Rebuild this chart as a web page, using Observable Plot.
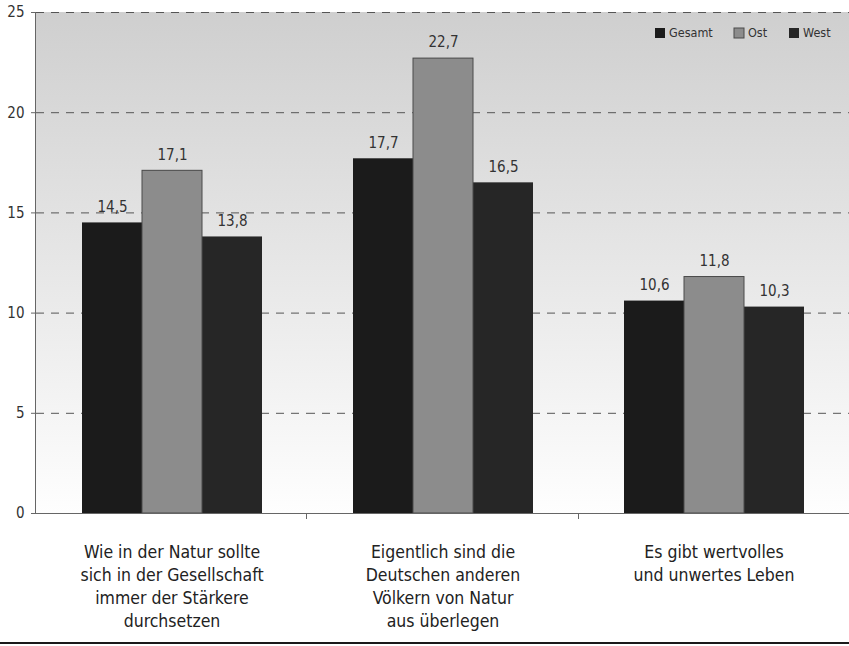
<!DOCTYPE html>
<html><head><meta charset="utf-8">
<script src="https://cdn.jsdelivr.net/npm/d3@7"></script>
<script src="https://cdn.jsdelivr.net/npm/@observablehq/plot@0.6"></script>
<style>body{margin:0;background:#fff} svg{display:block}</style>
</head><body><div id="chart"></div>
<script>
const categories = [
  "Wie in der Natur sollte\nsich in der Gesellschaft\nimmer der Stärkere\ndurchsetzen",
  "Eigentlich sind die\nDeutschen anderen\nVölkern von Natur\naus überlegen",
  "Es gibt wertvolles\nund unwertes Leben"
];
const series = ["Gesamt", "Ost", "West"];
const gesamt = [14.5, 17.7, 10.6];
const ost = [17.1, 22.7, 11.8];
const west = [13.8, 16.5, 10.3];
const yTicks = [0, 5, 10, 15, 20, 25];
const gridTicks = [5, 10, 15, 20, 25];
const colors = ["#1b1b1b", "#8c8c8c", "#262626"];

const data = categories.flatMap((c, i) => [
  {cat: c, s: "Gesamt", v: gesamt[i]},
  {cat: c, s: "Ost", v: ost[i]},
  {cat: c, s: "West", v: west[i]}
]);

const W = 849, H = 646, mL = 35, mR = 0, mT = 12, mB = 133;
const font = "'Liberation Sans Narrow', 'DejaVu Sans Condensed', sans-serif";

const chart = Plot.plot({
  width: W, height: H,
  marginLeft: mL, marginRight: mR, marginTop: mT, marginBottom: mB,
  style: {fontFamily: font, background: "transparent", color: "#333"},
  fx: {domain: categories, paddingInner: 0, paddingOuter: 0, label: null},
  x: {domain: series, paddingInner: 0, paddingOuter: 0.74, axis: null},
  y: {domain: [0, 25], label: null},
  color: {domain: series, range: colors},
  marks: [
    Plot.ruleY(gridTicks, {stroke: "#555", strokeDasharray: "8,7", strokeWidth: 1}),
    Plot.barY(data, {fx: "cat", x: "s", y: "v", fill: "s", inset: 0}),
    Plot.barY(data.filter(d => d.s === "Ost"), {fx: "cat", x: "s", y: "v", fill: "#8c8c8c", stroke: "#4a4a4a", strokeWidth: 1, inset: 0}),
    Plot.ruleY([0], {stroke: "#666", strokeWidth: 1}),
    Plot.text(data, {fx: "cat", x: "s", y: "v", text: d => d.v.toFixed(1).replace(".", ","), dy: -16, fontSize: 15, fill: "#333"}),
    Plot.axisY({ticks: yTicks, tickSize: 5, tickPadding: 7, fontSize: 15, stroke: "#666", label: null}),
    Plot.axisFx({anchor: "bottom", tickSize: 0, tickPadding: 28, fontSize: 17.5, lineHeight: 1.31, label: null, fill: "#222"})
  ]
});

const svg = d3.select(chart);
const y = d3.scaleLinear([0, 25], [H - mB, mT]);
// background gradient
const defs = svg.insert("defs", ":first-child");
const g = defs.append("linearGradient").attr("id", "bg").attr("x1", 0).attr("y1", 0).attr("x2", 0).attr("y2", 1);
g.append("stop").attr("offset", "0%").attr("stop-color", "#cfcfcf");
g.append("stop").attr("offset", "100%").attr("stop-color", "#fefefe");
svg.insert("rect", "defs + *")
  .attr("x", mL).attr("y", y(25)).attr("width", W - mL - mR).attr("height", y(0) - y(25))
  .attr("fill", "url(#bg)");
// left axis line
svg.append("line").attr("x1", mL + 0.5).attr("x2", mL + 0.5).attr("y1", y(25)).attr("y2", y(0) + 0.5).attr("stroke", "#666");
// category boundary ticks
const fx = d3.scaleBand(categories, [mL, W - mR]).paddingInner(0).paddingOuter(0);
categories.slice(1).forEach(c => {
  const xx = Math.round(fx(c)) + 0.5;
  svg.append("line").attr("x1", xx).attr("x2", xx).attr("y1", y(0)).attr("y2", y(0) + 6).attr("stroke", "#666");
});
// bottom rule
svg.append("line").attr("x1", 0).attr("x2", W).attr("y1", H - 3).attr("y2", H - 3).attr("stroke", "#1a1a1a").attr("stroke-width", 2);
// legend
const legX = [655, 734, 789];
const leg = svg.append("g").attr("font-family", font).attr("font-size", 12.5).attr("fill", "#333").attr("text-anchor", "start");
series.forEach((s, i) => {
  leg.append("rect").attr("x", legX[i]).attr("y", 28).attr("width", 10).attr("height", 10)
    .attr("fill", colors[i]).attr("stroke", i === 1 ? "#4a4a4a" : "none");
  leg.append("text").attr("x", legX[i] + 14).attr("y", 33).attr("dy", "0.35em").attr("text-anchor", "start").text(s);
});
document.getElementById("chart").appendChild(chart);
</script>
</body></html>
